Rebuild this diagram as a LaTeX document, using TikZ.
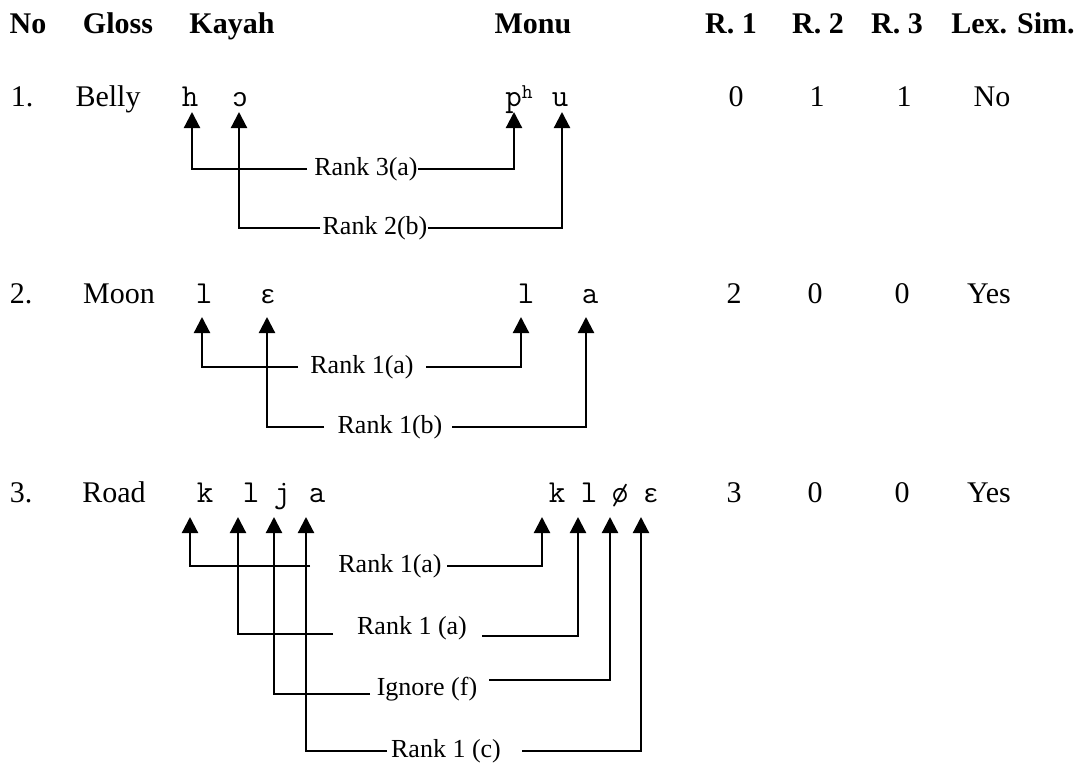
\documentclass[tikz,border=0pt]{standalone}
\usepackage{fontspec}
\setmainfont{Liberation Serif}
\newfontfamily\ipafont{Liberation Mono}
\newcommand{\ipx}[1]{{\fontsize{26}{30}\selectfont\ipafont #1}}
\usetikzlibrary{arrows.meta}
\begin{document}
\begin{tikzpicture}[x=1pt,y=-1pt,
  hdr/.style={anchor=base,inner sep=0pt,font=\fontsize{30}{36}\selectfont\bfseries},
  txt/.style={anchor=base,inner sep=0pt,font=\fontsize{30}{36}\selectfont},
  ipa/.style={anchor=base,inner sep=0pt,font=\fontsize{32}{36}\selectfont\ttfamily},
  lbl/.style={anchor=base,inner sep=0pt,font=\fontsize{26}{30}\selectfont},
  conn/.style={line width=2.2pt,-{Triangle[width=16pt,length=16pt]}}]
\useasboundingbox (0,0) rectangle (1081,763);
% header
\node[hdr] (hNo) at (28,33) {No};
\node[hdr] (hGl) at (118,33) {Gloss};
\node[hdr] (hKa) at (232,33) {Kayah};
\node[hdr] (hMo) at (533,33) {Monu};
\node[hdr] (hR1) at (731,33) {R. 1};
\node[hdr] (hR2) at (818,33) {R. 2};
\node[hdr] (hR3) at (897,33) {R. 3};
\node[hdr] (hLx) at (1013,33) {Lex. Sim.};
% row 1
\node[txt] (n1) at (22,106) {1.};
\node[txt] (g1) at (108,106) {Belly};
\node[ipa] (k1a) at (190,106) {h};
\node[ipa] (k1b) at (240,106) {\ipx{ɔ}};
\node[ipa] (m1a) at (519,106) {p\raisebox{8pt}{\fontsize{21}{21}\selectfont h}};
\node[ipa] (m1b) at (560,106) {u};
\node[txt] (v1a) at (736,106) {0};
\node[txt] (v1b) at (817,106) {1};
\node[txt] (v1c) at (904,106) {1};
\node[txt] (v1d) at (992,106) {No};
% row 2
\node[txt] (n2) at (21,303) {2.};
\node[txt] (g2) at (119,303) {Moon};
\node[ipa] (k2a) at (204,303) {l};
\node[ipa] (k2b) at (268,303) {\ipx{ɛ}};
\node[ipa] (m2a) at (526,303) {l};
\node[ipa] (m2b) at (590,303) {a};
\node[txt] (v2a) at (734,303) {2};
\node[txt] (v2b) at (815,303) {0};
\node[txt] (v2c) at (902,303) {0};
\node[txt] (v2d) at (989,303) {Yes};
% row 3
\node[txt] (n3) at (21,502) {3.};
\node[txt] (g3) at (114,502) {Road};
\node[ipa] (k3a) at (205,502) {k};
\node[ipa] (k3b) at (251,502) {l};
\node[ipa] (k3c) at (282,502) {j};
\node[ipa] (k3d) at (317,502) {a};
\node[ipa] (m3a) at (557,502) {k};
\node[ipa] (m3b) at (589,502) {l};
\node[ipa] (m3c) at (620,502) {ø};
\node[ipa] (m3d) at (651,502) {\ipx{ɛ}};
\node[txt] (v3a) at (734,502) {3};
\node[txt] (v3b) at (815,502) {0};
\node[txt] (v3c) at (902,502) {0};
\node[txt] (v3d) at (989,502) {Yes};
% arrow tips
\coordinate (tk1a) at (192,112); \coordinate (tk1b) at (239,112);
\coordinate (tm1a) at (514,112); \coordinate (tm1b) at (562,112);
\coordinate (tk2a) at (202,317); \coordinate (tk2b) at (267,317);
\coordinate (tm2a) at (521,317); \coordinate (tm2b) at (586,317);
\coordinate (tk3a) at (190,517); \coordinate (tk3b) at (238,517);
\coordinate (tk3c) at (274,517); \coordinate (tk3d) at (306,517);
\coordinate (tm3a) at (542,517); \coordinate (tm3b) at (578,517);
\coordinate (tm3c) at (610,517); \coordinate (tm3d) at (641,517);
% labels
\node[lbl] (L1a) at (366,175) {Rank 3(a)};
\node[lbl] (L1b) at (375,234) {Rank 2(b)};
\node[lbl] (L2a) at (362,373) {Rank 1(a)};
\node[lbl] (L2b) at (390,433) {Rank 1(b)};
\node[lbl] (L3a) at (390,572) {Rank 1(a)};
\node[lbl] (L3b) at (412,634) {Rank 1 (a)};
\node[lbl] (L3c) at (427,695) {Ignore (f)};
\node[lbl] (L3d) at (446,757) {Rank 1 (c)};
% line ends beside labels
\coordinate (e1aL) at (307,169); \coordinate (e1aR) at (418,169);
\coordinate (e1bL) at (320,228); \coordinate (e1bR) at (428,228);
\coordinate (e2aL) at (298,367); \coordinate (e2aR) at (426,367);
\coordinate (e2bL) at (324,427); \coordinate (e2bR) at (452,427);
\coordinate (e3aL) at (310,566); \coordinate (e3aR) at (447,566);
\coordinate (e3bL) at (333,634); \coordinate (e3bR) at (482,636);
\coordinate (e3cL) at (370,694); \coordinate (e3cR) at (489,680);
\coordinate (e3dL) at (387,751); \coordinate (e3dR) at (522,751);
% connectors
\foreach \a/\b/\c in {1a/k1a/m1a, 1b/k1b/m1b, 2a/k2a/m2a, 2b/k2b/m2b,
                      3a/k3a/m3a, 3b/k3b/m3b, 3c/k3c/m3c, 3d/k3d/m3d}{
  \draw[conn] (e\a L) -| (t\b);
  \draw[conn] (e\a R) -| (t\c);
}
\end{tikzpicture}
\end{document}
